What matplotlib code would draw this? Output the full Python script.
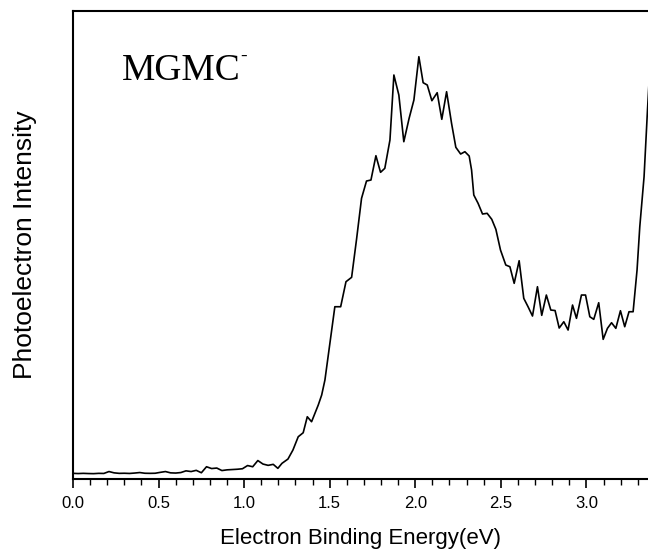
import numpy as np
import matplotlib
matplotlib.use("Agg")
import matplotlib.pyplot as plt
from matplotlib.ticker import MultipleLocator

# binding energy (eV) and photoelectron intensity (arb. units)
energy = [
    0.00, 0.03, 0.06, 0.09, 0.12, 0.15, 0.18, 0.21, 0.24, 0.27,
    0.30, 0.33, 0.36, 0.39, 0.42, 0.45, 0.48, 0.51, 0.54, 0.57,
    0.60, 0.63, 0.66, 0.69, 0.72, 0.75, 0.78, 0.81, 0.84, 0.87,
    0.90, 0.93, 0.96, 0.99, 1.02, 1.05, 1.08, 1.11, 1.14, 1.17,
    1.197, 1.221, 1.256, 1.285, 1.316, 1.345, 1.369, 1.394, 1.433, 1.453,
    1.472, 1.530, 1.564, 1.595, 1.628, 1.657, 1.686, 1.715, 1.741, 1.770,
    1.797, 1.822, 1.852, 1.875, 1.904, 1.933, 1.964, 1.992, 2.021, 2.046,
    2.070, 2.097, 2.128, 2.155, 2.183, 2.212, 2.237, 2.265, 2.290, 2.315,
    2.329, 2.342, 2.367, 2.393, 2.420, 2.447, 2.471, 2.498, 2.529, 2.553,
    2.578, 2.607, 2.634, 2.659, 2.685, 2.714, 2.739, 2.766, 2.792, 2.817,
    2.841, 2.868, 2.893, 2.919, 2.942, 2.971, 2.995, 3.020, 3.043, 3.072,
    3.098, 3.123, 3.147, 3.172, 3.199, 3.224, 3.249, 3.273, 3.296, 3.312,
    3.337, 3.357, 3.380,
]
intensity = [
    5.7, 5.5, 5.7, 5.5, 5.4, 5.7, 5.6, 7.5, 6.2, 5.7,
    5.8, 5.6, 6.0, 6.5, 5.8, 5.7, 5.8, 6.7, 7.5, 6.2,
    6.0, 6.5, 8.2, 7.5, 8.7, 6.3, 12.3, 10.5, 11.0, 8.5,
    9.2, 9.5, 9.8, 10.3, 13.5, 12.3, 18.5, 15.0, 13.7, 14.7,
    10.7, 15.7, 20.0, 29.0, 42.3, 46.3, 62.3, 57.3, 74.0, 84.0,
    99.0, 172.3, 172.3, 197.3, 201.7, 240.0, 280.7, 298.0, 299.0, 323.3,
    306.7, 310.7, 339.0, 404.0, 384.0, 337.3, 360.7, 379.0, 422.3, 396.3,
    394.0, 378.3, 386.3, 359.7, 387.3, 355.7, 331.7, 325.0, 327.3, 323.0,
    309.0, 284.0, 275.7, 265.0, 265.7, 259.7, 249.7, 229.0, 214.0, 212.3,
    195.7, 218.3, 180.7, 172.3, 163.0, 192.3, 163.7, 184.0, 169.0, 168.5,
    151.0, 157.3, 149.0, 174.0, 160.7, 184.0, 184.0, 162.3, 159.7, 176.3,
    139.7, 150.7, 156.3, 150.7, 168.3, 152.3, 167.3, 167.3, 209.0, 252.3,
    302.3, 369.0, 440.0,
]

fig = plt.figure(figsize=(6.48, 5.5), dpi=100)
ax = fig.add_axes([0.1127, 0.129, 0.8873, 0.851])

ax.plot(energy, intensity, color="black", lw=1.2)

ax.set_xlim(0, 3.36)
ax.set_ylim(0, 468)

ax.xaxis.set_major_locator(MultipleLocator(0.5))
ax.xaxis.set_minor_locator(MultipleLocator(0.1))
ax.tick_params(axis="x", which="major", direction="out", length=6.5, width=1.2,
               labelsize=12, pad=6)
ax.tick_params(axis="x", which="minor", direction="out", length=4, width=1.0)
ax.set_yticks([])

for side in ("left", "top", "bottom"):
    ax.spines[side].set_linewidth(1.5)
ax.spines["right"].set_visible(False)

for lbl in ax.get_xticklabels():
    lbl.set_family("Liberation Sans")

ax.set_xlabel("Electron Binding Energy(eV)", family="Liberation Sans",
              fontsize=16, labelpad=12)
ax.set_ylabel("Photoelectron Intensity", family="Liberation Sans",
              fontsize=19, labelpad=26)

ax.text(0.085, 0.853, "MGMC", transform=ax.transAxes, family="Liberation Serif",
        fontsize=27, va="baseline", ha="left")
ax.text(0.29, 0.893, "-", transform=ax.transAxes, family="Liberation Serif",
        fontsize=14, va="baseline", ha="left")

fig.savefig("out.png", dpi=100)
